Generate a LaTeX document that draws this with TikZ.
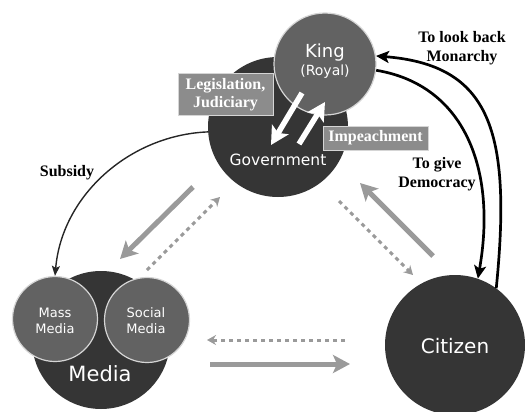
\documentclass[tikz,border=0pt]{standalone}
\usepackage{fontspec}
\setmainfont{Liberation Serif}
\newfontfamily\dvs{DejaVu Sans}
\usetikzlibrary{arrows.meta}
\definecolor{darkc}{HTML}{353535}
\definecolor{midc}{HTML}{626262}
\definecolor{ringc}{HTML}{D5D5D5}
\definecolor{arrg}{HTML}{9A9A9A}
\definecolor{boxg}{HTML}{8C8C8C}
\begin{document}
\begin{tikzpicture}[x=1pt,y=-1pt,
  darkcirc/.style={circle, fill=darkc, inner sep=0pt},
  midcirc/.style={circle, fill=midc, draw=ringc, line width=1.2pt, inner sep=0pt},
  ctext/.style={text=white, align=center, inner sep=0pt, anchor=base},
  blabel/.style={font=\fontsize{16}{19}\selectfont\bfseries, align=center, text=black, inner sep=0pt},
  gbox/.style={fill=boxg, draw=ringc, line width=1pt, text=white, font=\fontsize{16}{18}\selectfont\bfseries, align=center, inner sep=0pt},
  solidg/.style={draw=arrg, line width=5pt, -{Stealth[length=17pt,width=18pt,inset=4pt]}},
  dashg/.style={draw=arrg, line width=3pt, dash pattern=on 4pt off 4pt, -{Stealth[length=9pt,width=10pt,inset=3pt]}},
  blk/.style={line width=2.7pt, -{Stealth[length=13pt,width=12pt,inset=3pt]}},
  warr/.style={white, line width=5.5pt, -{Stealth[length=18pt,width=19pt,inset=4pt]}}
]
\useasboundingbox (0,0) rectangle (525,412);
% circles
\node[darkcirc, minimum size=140pt] (gov) at (278,127) {};
\node[midcirc, minimum size=102pt] (king) at (325,64) {};
\node[darkcirc, minimum size=138pt] (media) at (101,340) {};
\node[midcirc, minimum size=85pt] (mass) at (55,319) {};
\node[midcirc, minimum size=85pt] (social) at (147,320) {};
\node[darkcirc, minimum size=140pt] (cit) at (455,345) {};
% circle texts
\node[ctext, font=\dvs\fontsize{18}{20}\selectfont] (kingt) at (325,58) {King};
\node[ctext, font=\dvs\fontsize{14}{16}\selectfont] (royalt) at (325,75) {(Royal)};
\node[ctext, font=\dvs\fontsize{15.5}{18}\selectfont] (govt) at (278,165) {Government};
\node[ctext, font=\dvs\fontsize{20}{22}\selectfont] (citt) at (455,353) {Citizen};
\node[ctext, font=\dvs\fontsize{21}{22}\selectfont] (mediat) at (100,381) {Media};
\node[ctext, font=\dvs\fontsize{13}{16}\selectfont] (masst) at (55,317) {Mass};
\node[ctext, font=\dvs\fontsize{13}{16}\selectfont] (massm) at (55,333) {Media};
\node[ctext, font=\dvs\fontsize{13}{16}\selectfont] (socialt) at (146,317) {Social};
\node[ctext, font=\dvs\fontsize{13}{16}\selectfont] (socialm) at (146,333) {Media};
% boxes
\node[gbox, minimum width=95pt, minimum height=41pt] (legis) at (225.5,94.5) {Legislation,\\Judiciary};
\node[gbox, minimum width=105pt, minimum height=24pt] (imp) at (375.5,138) {Impeachment};
% white arrows
\coordinate (w1s) at (302,93);
\coordinate (w1e) at (271,145);
\coordinate (w2s) at (299,144);
\coordinate (w2e) at (325,102);
\draw[warr] (w1s) -- (w1e);
\draw[warr] (w2s) -- (w2e);
% subsidy
\draw[line width=1.4pt, draw=black!85, -{Stealth[length=10pt,width=8pt,inset=2pt]}] (gov.184) .. controls (130,135) and (62,195) .. (mass.north);
\node[blabel] (subs) at (67,173) {Subsidy};
% black arcs
\draw[blk] (cit.54) .. controls (512,130) and (490,65) .. (king.9);
\draw[blk] (king.-7) .. controls (465,85) and (497,170) .. (cit.71);
\node[blabel] (lookback) at (462,48) {To look back\\Monarchy};
\node[blabel] (give) at (437,174) {To give\\Democracy};
% gray arrows
\coordinate (a1s) at (193,187); \coordinate (a1e) at (120,259);
\coordinate (a2s) at (147,270); \coordinate (a2e) at (220,197);
\coordinate (a3s) at (433,256); \coordinate (a3e) at (360,183);
\coordinate (a4s) at (339,201); \coordinate (a4e) at (413,275);
\coordinate (a5s) at (345,340); \coordinate (a5e) at (207,340);
\coordinate (a6s) at (210,364); \coordinate (a6e) at (350,364);
\draw[solidg] (a1s) -- (a1e);
\draw[dashg] (a2s) -- (a2e);
\draw[solidg] (a3s) -- (a3e);
\draw[dashg] (a4s) -- (a4e);
\draw[dashg] (a5s) -- (a5e);
\draw[solidg] (a6s) -- (a6e);
\end{tikzpicture}
\end{document}
